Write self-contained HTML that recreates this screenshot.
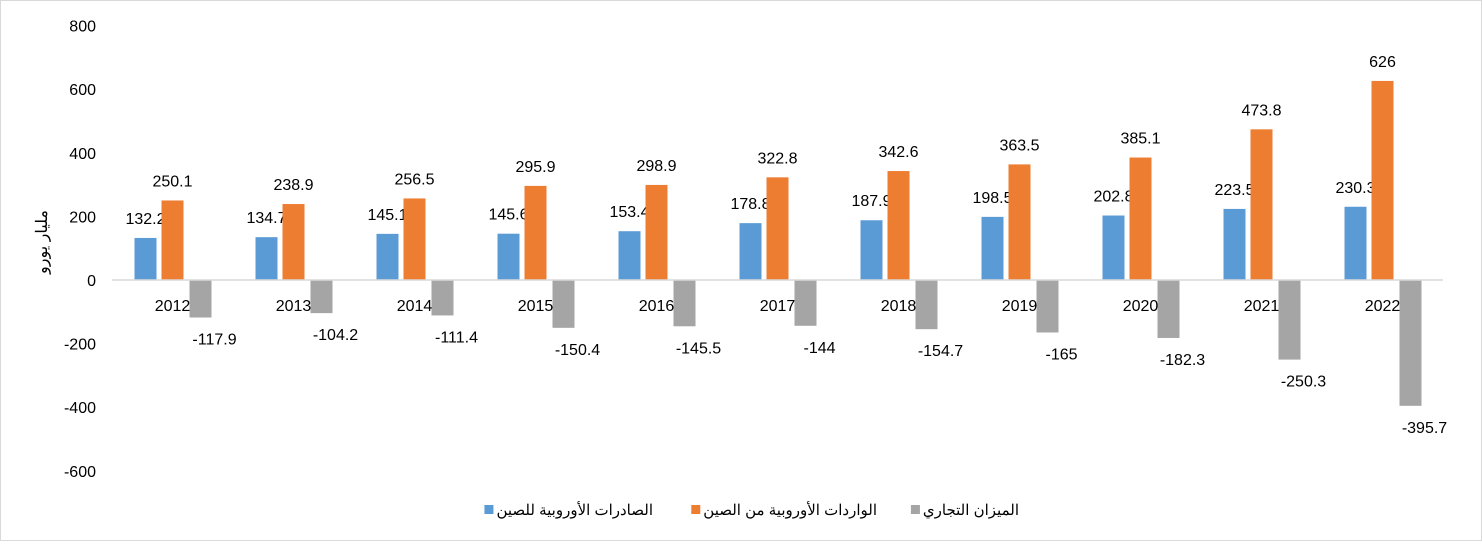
<!DOCTYPE html>
<html><head><meta charset="utf-8"><style>
body{margin:0;background:#fff}
#c{position:absolute;left:0;top:0;width:1482px;height:541px;border:1px solid #d9d9d9;box-sizing:border-box}
text{font-family:"Liberation Sans","Noto Sans CJK SC",sans-serif;fill:#000}
</style></head><body>
<div id="c">
<svg id="s" width="1480" height="539" xmlns="http://www.w3.org/2000/svg"></svg>
</div>
<script>
const years=["2012","2013","2014","2015","2016","2017","2018","2019","2020","2021","2022"];
const exportsCN=[132.2,134.7,145.1,145.6,153.4,178.8,187.9,198.5,202.8,223.5,230.3];
const importsCN=[250.1,238.9,256.5,295.9,298.9,322.8,342.6,363.5,385.1,473.8,626];
const balance=[-117.9,-104.2,-111.4,-150.4,-145.5,-144,-154.7,-165,-182.3,-250.3,-395.7];
const ticks=[800,600,400,200,0,-200,-400,-600];
const NS="http://www.w3.org/2000/svg";
const s=document.getElementById('s');
const y0=279, pxPer=63.6/200;
const yv=v=>y0-v*pxPer;
const left=111, groupW=121;
const gx=i=>left+groupW*(i+0.5);
function el(t,a,p){const e=document.createElementNS(NS,t);for(const k in a)e.setAttribute(k,a[k]);(p||s).appendChild(e);return e;}
ticks.forEach(t=>{
 const e=el('text',{x:95,y:yv(t)+6,'text-anchor':'end','font-size':16});
 e.textContent=t;
 
 
});
const at=el('text',{transform:'translate(46,241) rotate(-90)','text-anchor':'middle','font-size':16});
at.textContent='مليار يورو';


const series=[[exportsCN,'#5b9bd5',-27,'exports'],[importsCN,'#ed7d31',0,'imports'],[balance,'#a5a5a5',28,'balance']];
years.forEach((yr,i)=>{
 series.forEach(([arr,col,off,nm])=>{
  const v=arr[i],cx=gx(i)+off,top=Math.min(yv(v),y0),h=Math.abs(yv(v)-y0);
  const r=el('rect',{x:cx-11,y:top,width:22,height:h,fill:col});
  
  
  const l=el('text',{x:v<0?cx+14:cx,y:v<0?yv(v)+27:yv(v)-14,'text-anchor':'middle','font-size':16});
  l.textContent=v;
  
  
 });
});
const ax=el('line',{x1:left,x2:left+groupW*years.length,y1:y0,y2:y0,stroke:'#d9d9d9','stroke-width':1.5});


years.forEach((yr,i)=>{
 const t=el('text',{x:gx(i),y:y0+31,'text-anchor':'middle','font-size':16});
 t.textContent=yr;
 
 
});
const leg=[['#a5a5a5','الميزان التجاري',1018,'balance'],['#ed7d31','الواردات الأوروبية من الصين',876,'imports'],['#5b9bd5','الصادرات الأوروبية للصين',652,'exports']];
leg.forEach(([c,txt,xr,nm])=>{
 const g=el('g',{});
 
 
 const t=el('text',{x:xr,y:514,'text-anchor':'end','font-size':15},g);t.textContent=txt;
 const len=t.getComputedTextLength();
 el('rect',{x:xr-len-12,y:504,width:9,height:9,fill:c},g);
});
</script>
</body></html>
